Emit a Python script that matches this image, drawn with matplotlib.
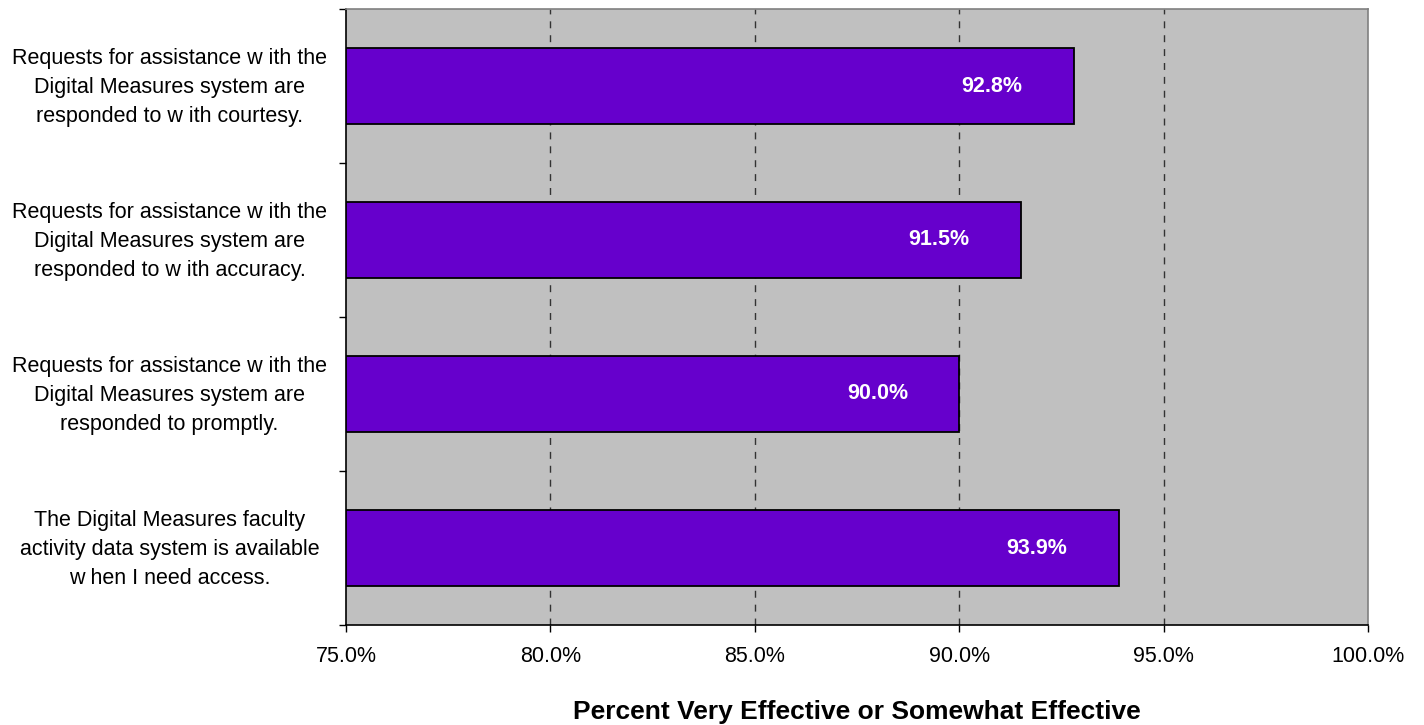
import matplotlib
matplotlib.use("Agg")
import matplotlib.pyplot as plt
import numpy as np
from matplotlib.ticker import FixedLocator, PercentFormatter
from matplotlib.transforms import ScaledTranslation

plt.rcParams['font.family'] = ['Liberation Sans', 'DejaVu Sans']

categories = [
    "Requests for assistance w ith the\nDigital Measures system are\nresponded to w ith courtesy.",
    "Requests for assistance w ith the\nDigital Measures system are\nresponded to w ith accuracy.",
    "Requests for assistance w ith the\nDigital Measures system are\nresponded to promptly.",
    "The Digital Measures faculty\nactivity data system is available\nw hen I need access.",
]
values = [92.8, 91.5, 90.0, 93.9]
value_labels = ["92.8%", "91.5%", "90.0%", "93.9%"]
xticks = [75, 80, 85, 90, 95, 100]
xlabel = "Percent Very Effective or Somewhat Effective"

fig = plt.figure(figsize=(14.24, 7.25), dpi=100)
ax = fig.add_axes([346/1424, 1-625/725, (1368-346)/1424, (625-9)/725])
ax.set_facecolor('#C0C0C0')

n = len(categories)
y = np.arange(n)[::-1]  # first category at top
base = 75
ax.barh(y, np.array(values) - base, left=base, height=0.49,
        color='#6600CC', edgecolor='black', linewidth=1.3, zorder=3)

for yi, v, lab in zip(y, values, value_labels):
    ax.text(v - 2.0, yi, lab, ha='center', va='center', color='white',
            fontsize=15.5, fontweight='bold', zorder=4)

ax.set_xlim(75, 100)
ax.set_ylim(-0.5, n - 0.5)
ax.set_xticks(xticks)
ax.xaxis.set_major_formatter(PercentFormatter(decimals=1))
ax.tick_params(axis='x', direction='out', length=5, width=1, colors='black',
               labelsize=15.5, pad=10)

ax.set_yticks(y)
ax.set_yticklabels(categories, fontsize=15.5, linespacing=1.52, ha='center')
ax.tick_params(axis='y', which='major', length=0, pad=127)
shift = ScaledTranslation(0, 5 / 100, fig.dpi_scale_trans)
for lbl in ax.get_yticklabels():
    lbl.set_transform(lbl.get_transform() + shift)
ax.yaxis.set_minor_locator(FixedLocator(np.arange(-0.5, n, 1.0)))
ax.tick_params(axis='y', which='minor', direction='out', length=5, width=1, colors='black')

for xv in xticks[1:-1]:
    ax.axvline(xv, color='#333333', linestyle=(0, (5, 5)), linewidth=1, zorder=1)

ax.spines['left'].set_color('black')
ax.spines['bottom'].set_color('black')
ax.spines['top'].set_color('#808080')
ax.spines['right'].set_color('#808080')
for s in ax.spines.values():
    s.set_linewidth(1.2)

ax.set_xlabel(xlabel, fontsize=19, fontweight='bold', labelpad=24)

fig.savefig('out.png', dpi=100)
